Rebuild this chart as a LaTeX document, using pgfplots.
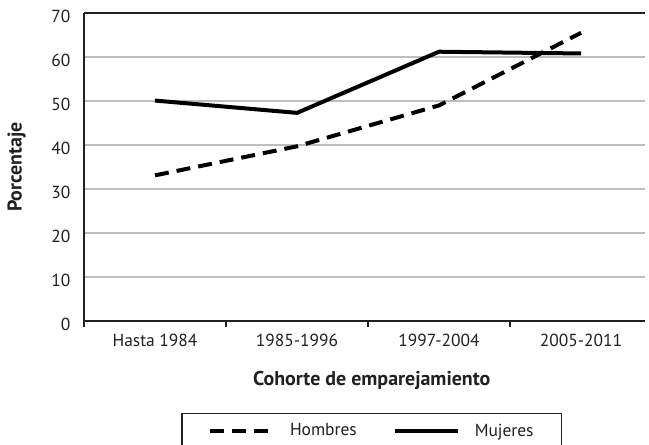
\documentclass[border=0pt]{standalone}
\usepackage{fontspec}
\setmainfont{PT Sans}
\usepackage{pgfplots}
\pgfplotsset{compat=1.18}
\definecolor{txt}{HTML}{231F20}
\definecolor{grd}{HTML}{BEBEBE}
\begin{document}
\begin{tikzpicture}
\begin{axis}[
  scale only axis,
  width=561bp, height=308bp,
  xmin=-0.5, xmax=3.45,
  ymin=0, ymax=70,
  axis x line=bottom, axis y line=left,
  axis line style={-, line width=1.6bp, color=txt},
  major tick length=6bp,
  minor tick length=6bp,
  xtick={0,1,2,3},
  xticklabels={Hasta 1984,1985-1996,1997-2004,2005-2011},
  minor xtick={-0.5,0.5,1.5,2.5},
  major x tick style={draw=none},
  minor x tick style={line width=1.6bp, color=txt},
  xtick align=outside,
  ytick align=outside,
  ytick={10,20,...,60},
  major y tick style={draw=none},
  extra y ticks={0,70},
  extra y tick labels={0,70},
  extra y tick style={tick style={line width=1.6bp,color=txt}, grid style={line width=1.6bp,color=txt}},
  ymajorgrids,
  grid style={line width=1.4bp, color=grd},
  tick label style={font=\fontsize{17.5}{20}\selectfont, color=txt},
  /pgf/number format/assume math mode=true,
  xticklabel style={yshift=-4bp},
  yticklabel style={xshift=-4bp, yshift=-3bp},
  xlabel={Cohorte de emparejamiento},
  ylabel={Porcentaje},
  label style={font=\bfseries\fontsize{20}{22}\selectfont, color=txt},
  xlabel style={at={(axis description cs:0.513,-0.211)}, anchor=base},
  ylabel style={at={(axis description cs:-0.12,0.5)}, anchor=center},
  legend columns=2,
  legend style={at={(0.513,-0.299)}, anchor=north, draw=txt, line width=1.3bp,
    font=\fontsize{17.5}{20}\selectfont, text=txt, inner xsep=26bp, inner ysep=8bp,
    /tikz/every odd column/.append style={column sep=13bp},
    /tikz/every even column/.append style={column sep=34bp}},
  legend image code/.code={\draw[#1] (0bp,0bp) -- (63bp,0bp);},
  clip=false,
]
\addplot[black, line width=4bp, dash pattern=on 14bp off 8bp] coordinates {(0,33.1) (1,39.7) (2,49.0) (3,65.5)};
\addlegendentry{Hombres}
\addplot[black, line width=4bp] coordinates {(0,50.1) (1,47.3) (2,61.2) (3,60.8)};
\addlegendentry{Mujeres}
\coordinate (O) at (rel axis cs:0,0);
\coordinate (T) at (rel axis cs:1,1);
\end{axis}
\pgfresetboundingbox
\path ([shift={(-84bp,-124bp)}]O) rectangle ([shift={(4bp,13bp)}]T);
\end{tikzpicture}
\end{document}
